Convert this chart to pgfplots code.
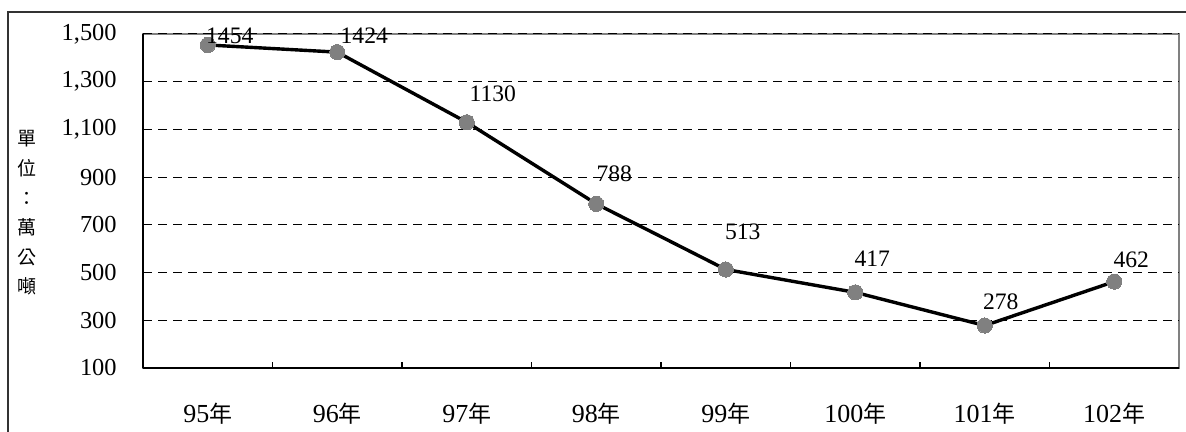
\documentclass[border=0pt]{standalone}
\usepackage{fontspec}
\setmainfont{Liberation Serif}
\newfontfamily\cjk{Noto Sans CJK TC}
\usepackage{pgfplots}
\pgfplotsset{compat=1.18}
\usepackage{pgfplotstable}
\pgfplotstableread{
x y dx dy
1 1454 11 4.5
2 1424 13.5 8
3 1130 13 14.5
4 788 9 15
5 513 8.5 19
6 417 8.5 17
7 278 8 12
8 462 8.5 11
}\datatable
\newcommand\nian{{\cjk\fontsize{11.5bp}{12bp}\selectfont 年}}
\begin{document}
\begin{tikzpicture}
\path[use as bounding box] (0,0) rectangle (593bp,216bp);
\draw[line width=1bp, black!80] (4.15bp,-1bp) -- (4.15bp,209.85bp) -- (594bp,209.85bp);
\begin{axis}[
  at={(71.5bp,32bp)}, anchor=south west,
  scale only axis, width=518bp, height=167bp,
  xmin=0.5, xmax=8.5, ymin=100, ymax=1500,
  xtick={1,...,8},
  xticklabels={95\nian,96\nian,97\nian,98\nian,99\nian,100\nian,101\nian,102\nian},
  minor xtick={1.5,2.5,...,7.5},
  ytick={100,300,...,1500},
  major tick length=0pt,
  minor tick length=3bp,
  tick align=inside,
  axis x line*=bottom, axis y line*=left,
  axis line style={-, line width=0.9bp, black},
  axis background/.style={draw=gray, line width=0.8bp},
  minor x tick style={line width=0.6bp, black},
  ymajorgrids,
  major grid style={black, line width=0.5bp, dash pattern=on 4.5bp off 3bp},
  /pgf/number format/assume math mode=true,
  yticklabel style={font=\fontsize{12.2bp}{14bp}\selectfont, anchor=east, inner sep=0pt, xshift=-13bp, /pgf/number format/1000 sep={,}},
  xticklabel style={font=\fontsize{13bp}{15bp}\selectfont, anchor=base, yshift=-27bp},
  every axis y label/.style={at={(rel axis cs:0,0.5)}, anchor=center, xshift=-58bp, yshift=-6bp, align=center, font=\cjk\fontsize{9.5bp}{14.8bp}\selectfont},
  ylabel={單\\位\\：\\萬\\公\\噸},
  clip=false,
]
\addplot[black, line width=1.7bp, mark=*, mark size=3.8bp, mark options={fill=gray, draw=gray, line width=0pt},
  visualization depends on={\thisrow{dx} \as \dx},
  visualization depends on={\thisrow{dy} \as \dy},
  nodes near coords={\pgfmathprintnumber[1000 sep={}]{\pgfplotspointmeta}},
  nodes near coords style={anchor=center, xshift=\dx bp, yshift=\dy bp, font=\fontsize{11.8bp}{13bp}\selectfont, text=black},
] table[x=x, y=y] {\datatable};
\end{axis}
\end{tikzpicture}
\end{document}
